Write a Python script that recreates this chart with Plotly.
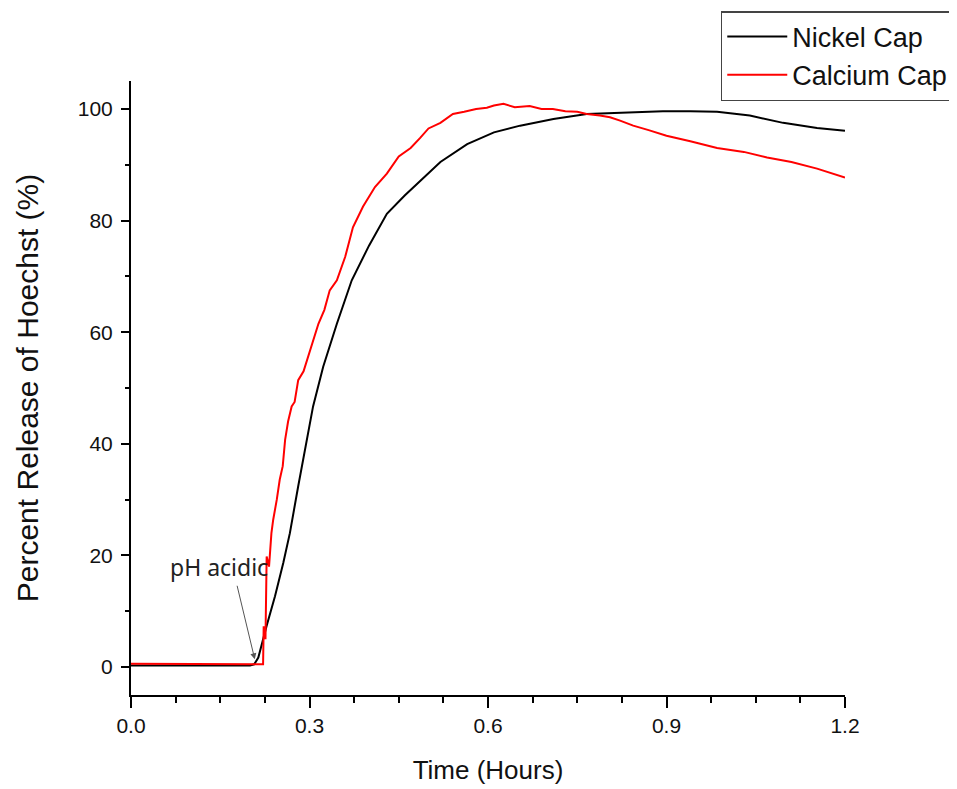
import plotly.graph_objects as go

# Nickel Cap (black)
nickel_time = [0, 0.1, 0.2, 0.207, 0.214, 0.228, 0.242, 0.256, 0.267, 0.281, 0.295, 0.306,
               0.323, 0.346, 0.371, 0.4, 0.43, 0.46, 0.486, 0.52, 0.565, 0.61, 0.654, 0.71,
               0.766, 0.822, 0.86, 0.894, 0.94, 0.985, 1.04, 1.096, 1.153, 1.2]
nickel_release = [0.3, 0.3, 0.3, 0.5, 1.7, 7.4, 12.7, 18.7, 24, 32.4, 40.7, 46.7,
                  53.8, 61.5, 69.3, 75.5, 81.2, 84.5, 87.1, 90.5, 93.7, 95.8, 97, 98.2,
                  99.1, 99.3, 99.5, 99.6, 99.6, 99.5, 98.8, 97.5, 96.6, 96.1]

# Calcium Cap (red)
calcium_time = [0, 0.1, 0.2, 0.222, 0.223, 0.226, 0.228, 0.232, 0.236, 0.239, 0.245, 0.250,
                0.255, 0.259, 0.264, 0.270, 0.275, 0.281, 0.29, 0.298, 0.307, 0.315, 0.325,
                0.334, 0.346, 0.36, 0.373, 0.39, 0.41, 0.43, 0.45, 0.47, 0.486, 0.5, 0.52,
                0.541, 0.56, 0.58, 0.598, 0.61, 0.626, 0.645, 0.67, 0.69, 0.709, 0.73, 0.75,
                0.766, 0.788, 0.805, 0.822, 0.844, 0.87, 0.9, 0.94, 0.985, 1.03, 1.069, 1.11,
                1.153, 1.2]
calcium_release = [0.6, 0.6, 0.5, 0.5, 7.3, 5, 19.8, 18, 24, 26.4, 30, 33.6,
                   36, 40.7, 44, 46.7, 47.5, 51.4, 53, 55.6, 58.5, 61.5, 64,
                   67.5, 69.3, 73.5, 78.8, 82.5, 86, 88.4, 91.5, 93, 94.8, 96.5, 97.5,
                   99.1, 99.5, 100, 100.2, 100.6, 100.9, 100.3, 100.5, 100, 100, 99.6, 99.5,
                   99.1, 98.8, 98.5, 97.9, 97, 96.2, 95.2, 94.2, 93, 92.3, 91.3, 90.5,
                   89.3, 87.7]

x_ticks = [0.0, 0.3, 0.6, 0.9, 1.2]
y_ticks = [0, 20, 40, 60, 80, 100]

FONT = "Liberation Sans, Arial, sans-serif"

fig = go.Figure()
fig.add_trace(go.Scatter(x=nickel_time, y=nickel_release, mode="lines", name="Nickel Cap",
                         line=dict(color="black", width=2)))
fig.add_trace(go.Scatter(x=calcium_time, y=calcium_release, mode="lines", name="Calcium Cap",
                         line=dict(color="#ff0000", width=2)))

# "pH acidic" label and its arrow
fig.add_annotation(x=0.148, y=17.9, text="pH acidic", showarrow=False,
                   font=dict(family="Noto Sans, Open Sans, sans-serif", size=23, color="#222"))
fig.add_annotation(x=0.208, y=1.4, text="", showarrow=True, ax=-18, ay=-75,
                   arrowhead=2, arrowsize=1.2, arrowwidth=1, arrowcolor="#555")

fig.update_layout(
    width=949, height=781,
    margin=dict(l=123, r=112, t=73, b=94, autoexpand=False),
    paper_bgcolor="white", plot_bgcolor="white",
    font=dict(family=FONT, color="#111"),
    showlegend=True,
    legend=dict(x=0.826, y=1.114, xanchor="left", yanchor="top",
                font=dict(family=FONT, size=27, color="#111"),
                bordercolor="#444", borderwidth=1.5, bgcolor="white",
                itemwidth=60, tracegroupgap=0),
)
fig.update_xaxes(
    range=[0, 1.2], tickvals=x_ticks, tickformat=".1f",
    showline=True, linecolor="black", linewidth=2, showgrid=False, zeroline=False,
    ticks="outside", ticklen=11, tickwidth=2, tickcolor="black",
    minor=dict(dtick=0.075, tick0=0, ticks="outside", ticklen=6, tickwidth=2, tickcolor="black", showgrid=False),
    tickfont=dict(family=FONT, size=21, color="#111"), ticklabelstandoff=0,
    title=dict(text="Time (Hours)", font=dict(family=FONT, size=26, color="#111"), standoff=25),
    automargin=False,
)
fig.update_yaxes(
    range=[-5, 105], tickvals=y_ticks,
    showline=True, linecolor="black", linewidth=2, showgrid=False, zeroline=False,
    ticks="outside", ticklen=8, tickwidth=2, tickcolor="black",
    minor=dict(dtick=10, tick0=0, ticks="outside", ticklen=4, tickwidth=2, tickcolor="black", showgrid=False),
    tickfont=dict(family=FONT, size=21, color="#111"), ticklabelstandoff=4,
    title=dict(text="Percent Release of Hoechst (%)", font=dict(family=FONT, size=30, color="#111"), standoff=30),
    automargin=False,
)

fig.write_html("out.html")
